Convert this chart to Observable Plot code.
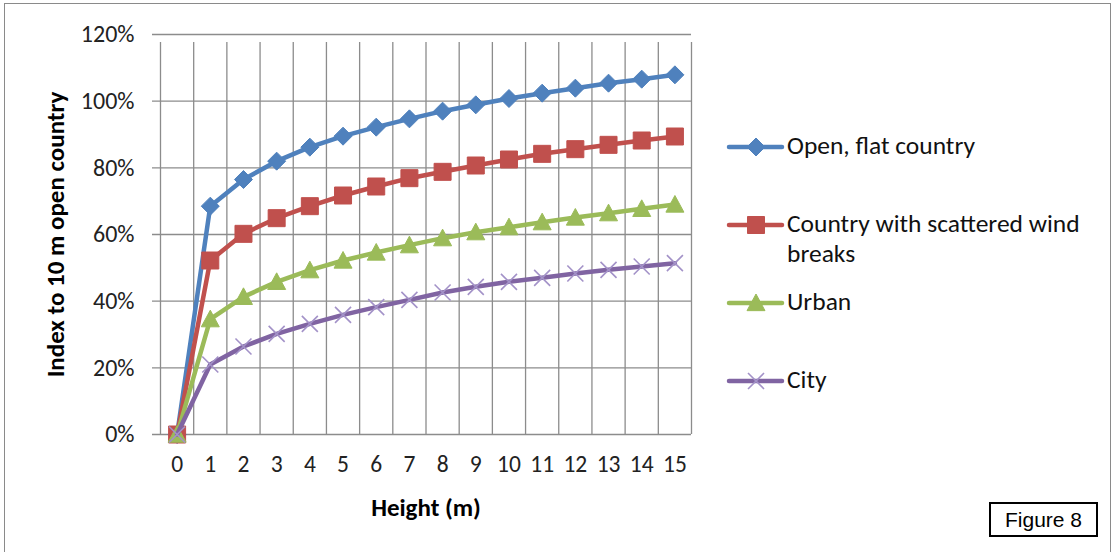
<!DOCTYPE html>
<html>
<head>
<meta charset="utf-8">
<script src="https://cdn.jsdelivr.net/npm/d3@7"></script>
<script src="https://cdn.jsdelivr.net/npm/@observablehq/plot@0.6"></script>
<style>
  html, body { margin: 0; padding: 0; background: #fff; }
  #wrap { position: relative; width: 1111px; height: 552px; overflow: hidden;
          font-family: Calibri, Carlito, Lato, sans-serif; }
  #border { position: absolute; left: 4px; top: 3px; width: 1107px; height: 620px;
            border: 1.5px solid #8a8a8a; box-sizing: border-box; }
  #chart { position: absolute; left: 0; top: 0; }
  .leg { position: absolute; left: 787px; font-size: 25.5px; line-height: 30px; color: #111; white-space: nowrap; }
  .sw { position: absolute; left: 726px; width: 60px; height: 24px; }
  #fig { position: absolute; left: 989px; top: 502px; width: 109px; height: 35px; box-sizing: border-box;
         border: 2px solid #000; font-family: "Liberation Sans", Arial, sans-serif; font-size: 21px;
         display: flex; align-items: center; justify-content: center; background: #fff; }
</style>
</head>
<body>
<div id="wrap">
  <div id="border"></div>
  <div id="chart"></div>
  <div id="legend"></div>
  <div id="fig">Figure 8</div>
</div>
<script>
// Heights (m) along the category axis
const heights = [0, 1, 2, 3, 4, 5, 6, 7, 8, 9, 10, 11, 12, 13, 14, 15];

// Wind speed index relative to 10 m in open country (%)
const openFlat   = [0, 68.5, 76.5, 82.0, 86.2, 89.5, 92.2, 94.7, 97.0, 98.9, 100.8, 102.4, 103.9, 105.4, 106.6, 107.9];
const scattered  = [0, 52.2, 60.2, 64.9, 68.5, 71.7, 74.4, 76.9, 78.8, 80.7, 82.5, 84.2, 85.6, 86.9, 88.2, 89.4];
const urban      = [0, 34.6, 41.3, 45.8, 49.3, 52.2, 54.6, 56.8, 58.9, 60.7, 62.2, 63.7, 65.1, 66.4, 67.7, 69.0];
const city       = [0, 21.0, 26.4, 30.2, 33.2, 35.9, 38.2, 40.4, 42.6, 44.3, 45.8, 47.0, 48.3, 49.4, 50.4, 51.4];

const seriesNames  = ["Open, flat country", "Country with scattered wind breaks", "Urban", "City"];
const seriesValues = [openFlat, scattered, urban, city];
const seriesColors = ["#4F81BD", "#C0504D", "#9BBB59", "#8064A2"];
const yTicks = [0, 0.2, 0.4, 0.6, 0.8, 1.0, 1.2];

// Marker shapes (r = half-size in px)
const diamond = { draw(ctx, size) { const r = Math.sqrt(size / Math.PI);
  ctx.moveTo(0, -r); ctx.lineTo(r, 0); ctx.lineTo(0, r); ctx.lineTo(-r, 0); ctx.closePath(); } };
const square = { draw(ctx, size) { const r = Math.sqrt(size / Math.PI);
  ctx.rect(-r, -r, 2 * r, 2 * r); } };
const triangle = { draw(ctx, size) { const r = Math.sqrt(size / Math.PI);
  ctx.moveTo(0, -r); ctx.lineTo(r, r * 0.85); ctx.lineTo(-r, r * 0.85); ctx.closePath(); } };
const cross = { draw(ctx, size) { const r = Math.sqrt(size / Math.PI);
  ctx.moveTo(-r, -r); ctx.lineTo(r, r); ctx.moveTo(r, -r); ctx.lineTo(-r, r); } };

const markers = [
  { symbol: diamond,  r: 9,   fill: seriesColors[0], stroke: seriesColors[0], strokeWidth: 1 },
  { symbol: square,   r: 8.5, fill: seriesColors[1], stroke: seriesColors[1], strokeWidth: 1 },
  { symbol: triangle, r: 9,   fill: seriesColors[2], stroke: seriesColors[2], strokeWidth: 1 },
  { symbol: cross,    r: 8,   fill: "none",          stroke: "#A392C8",       strokeWidth: 1.6 }
];

// Category boundaries carry the vertical gridlines
const boundaries = heights.map(h => h - 0.5).concat([heights[heights.length - 1] + 0.5]);

const seriesMarks = seriesNames.flatMap((name, i) => {
  const rows = heights.map((h, j) => ({ h, v: seriesValues[i][j] / 100, s: name }));
  const m = markers[i];
  return [
    Plot.line(rows, { x: "h", y: "v", stroke: seriesColors[i], strokeWidth: 4.5, strokeLinejoin: "round", strokeLinecap: "round" }),
    Plot.dot(rows, { x: "h", y: "v", symbol: m.symbol, r: m.r, fill: m.fill, stroke: m.stroke, strokeWidth: m.strokeWidth })
  ];
});

const chart = Plot.plot({
  width: 1111,
  height: 552,
  marginLeft: 160,
  marginRight: 420,
  marginTop: 34,
  marginBottom: 118,
  style: { fontFamily: "Calibri, Carlito, Lato, sans-serif", fontSize: "24px", color: "#000", background: "transparent" },
  x: { domain: [-0.5, 15.5] },
  y: { domain: [0, 1.2] },
  marks: [
    Plot.ruleY(yTicks, { y: d => d, x1: -0.5, x2: 15.5, insetLeft: -8, stroke: "#8c8c8c", strokeWidth: 1.3 }),
    Plot.ruleX(boundaries, { x: d => d, y1: 0, y2: 1.2, insetBottom: -8, stroke: "#8c8c8c", strokeWidth: 1.3 }),
    Plot.axisY(yTicks, { tickSize: 0, tickPadding: 26, tickFormat: d3.format(".0%"), label: null, fill: "#222", fontSize: 24 }),
    Plot.axisX(heights, { tickSize: 0, tickPadding: 21, tickFormat: d => String(d), label: null, fill: "#222", fontSize: 23.5 }),
    Plot.text(["Index to 10 m open country"], { frameAnchor: "left", textAnchor: "middle", dx: -105, rotate: -90, fontWeight: "bold", fontSize: 25, fill: "#000" }),
    Plot.text(["Height (m)"], { frameAnchor: "bottom", dy: 81, fontWeight: "bold", fontSize: 25, fill: "#000" }),
    ...seriesMarks
  ]
});
document.getElementById("chart").appendChild(chart);

// Legend entries
const legendRows = [
  { lines: ["Open, flat country"], y: 147 },
  { lines: ["Country with scattered wind", "breaks"], y: 225 },
  { lines: ["Urban"], y: 303 },
  { lines: ["City"], y: 381 }
];
const legend = d3.select("#legend");
legendRows.forEach((row, i) => {
  legend.append("div").attr("class", "leg")
    .style("top", (row.y - 16) + "px")
    .html(row.lines.join("<br>"));
  const sw = legend.append("svg").attr("class", "sw").style("top", (row.y - 12) + "px")
    .attr("width", 60).attr("height", 24);
  sw.append("line").attr("x1", 3).attr("x2", 56).attr("y1", 12).attr("y2", 12)
    .attr("stroke", seriesColors[i]).attr("stroke-width", 4.5).attr("stroke-linecap", "round");
  const m = markers[i];
  const path = d3.symbol(m.symbol, m.r * m.r * Math.PI)();
  sw.append("path").attr("d", path).attr("transform", "translate(30,12)")
    .attr("fill", m.fill).attr("stroke", m.stroke).attr("stroke-width", m.strokeWidth);
});
</script>
</body>
</html>
